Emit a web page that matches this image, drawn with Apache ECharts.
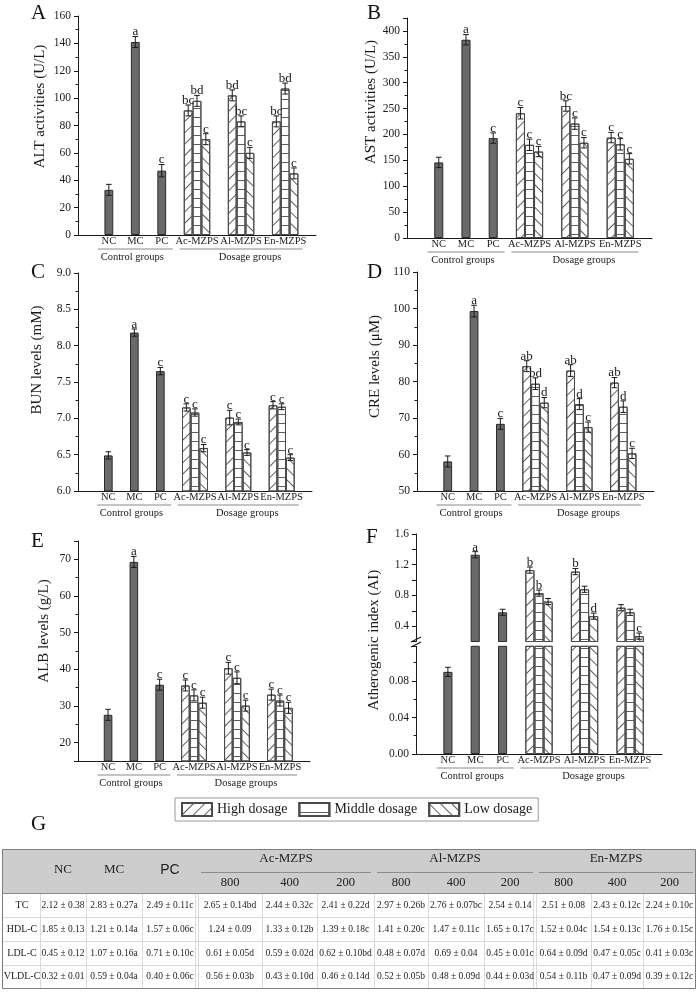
<!DOCTYPE html>
<html><head><meta charset="utf-8">
<script src="https://cdn.jsdelivr.net/npm/echarts@6/dist/echarts.min.js"></script>
<style>html,body{margin:0;padding:0;background:#fff}#c{width:698px;height:992px}</style>
</head><body><div id="c"></div>
<script>
// ---------------- data ----------------
const groupNames = ['NC', 'MC', 'PC', 'Ac-MZPS', 'Al-MZPS', 'En-MZPS'];
const groupTitles = ['Control groups', 'Dosage groups'];
const doseNames = ['High dosage', 'Middle dosage', 'Low dosage'];

// control arrays = [NC, MC, PC]; dosage arrays = [Ac, Al, En]
// A: ALT (U/L)
const altCtrl = [33, 141, 47];
const altCtrlErr = [4, 4, 4.5];
const altCtrlSig = ['', 'a', 'c'];
const altHigh = [91, 102, 83];
const altMid = [98, 83, 107];
const altLow = [70, 60, 45];
const altHighErr = [4, 4, 4];
const altMidErr = [4, 4, 4];
const altLowErr = [4, 4, 4];
const altHighSig = ['bc', 'bd', 'bc'];
const altMidSig = ['bd', 'bc', 'bd'];
const altLowSig = ['c', 'c', 'c'];

// B: AST (U/L)
const astCtrl = [146, 383, 193];
const astCtrlErr = [10, 10, 10];
const astCtrlSig = ['', 'a', 'c'];
const astHigh = [241, 255, 194];
const astMid = [180, 221, 181];
const astLow = [167, 184, 153];
const astHighErr = [11, 10, 10];
const astMidErr = [11, 11, 11];
const astLowErr = [10, 10, 10];
const astHighSig = ['c', 'bc', 'c'];
const astMidSig = ['c', 'c', 'c'];
const astLowSig = ['c', 'c', 'c'];

// C: BUN (mM)
const bunCtrl = [6.49, 8.18, 7.65];
const bunCtrlErr = [0.05, 0.05, 0.05];
const bunCtrlSig = ['', 'a', 'c'];
const bunHigh = [7.15, 7.01, 7.18];
const bunMid = [7.08, 6.95, 7.16];
const bunLow = [6.59, 6.53, 6.46];
const bunHighErr = [0.05, 0.1, 0.05];
const bunMidErr = [0.05, 0.04, 0.04];
const bunLowErr = [0.05, 0.04, 0.04];
const bunHighSig = ['c', 'c', 'c'];
const bunMidSig = ['c', 'c', 'c'];
const bunLowSig = ['c', 'c', 'c'];

// D: CRE (uM)
const creCtrl = [58.1, 99.3, 68.4];
const creCtrlErr = [1.5, 1.6, 1.5];
const creCtrlSig = ['', 'a', 'c'];
const creHigh = [84.2, 83.0, 79.7];
const creMid = [79.4, 73.8, 73.1];
const creLow = [74.2, 67.5, 60.3];
const creHighErr = [1.5, 1.6, 1.4];
const creMidErr = [1.6, 1.5, 1.6];
const creLowErr = [1.4, 1.4, 1.4];
const creHighSig = ['ab', 'ab', 'ab'];
const creMidSig = ['bd', 'd', 'd'];
const creLowSig = ['d', 'c', 'c'];

// E: ALB (g/L)
const albCtrl = [27.6, 69.3, 35.8];
const albCtrlErr = [1.5, 1.5, 1.5];
const albCtrlSig = ['', 'a', 'c'];
const albHigh = [35.6, 40.3, 33.1];
const albMid = [32.9, 37.7, 31.5];
const albLow = [30.9, 30.1, 29.5];
const albHighErr = [1.5, 1.6, 1.5];
const albMidErr = [1.5, 1.6, 1.5];
const albLowErr = [1.5, 1.5, 1.5];
const albHighSig = ['c', 'c', 'c'];
const albMidSig = ['c', 'c', 'c'];
const albLowSig = ['c', 'c', 'c'];

// F: Atherogenic index (AI)
const aiCtrl = [0.09, 1.33, 0.58];
const aiCtrlErr = [0.005, 0.04, 0.04];
const aiCtrlSig = ['', 'a', ''];
const aiHigh = [1.13, 1.11, 0.64];
const aiMid = [0.83, 0.88, 0.58];
const aiLow = [0.72, 0.53, 0.27];
const aiHighErr = [0.04, 0.04, 0.04];
const aiMidErr = [0.04, 0.04, 0.04];
const aiLowErr = [0.04, 0.04, 0.04];
const aiHighSig = ['b', 'b', ''];
const aiMidSig = ['b', '', ''];
const aiLowSig = ['', 'd', 'c'];

// G: table
const tableRowNames = ['TC', 'HDL-C', 'LDL-C', 'VLDL-C'];
const tableDoses = ['800', '400', '200'];
const tcVals = ['2.12 ± 0.38', '2.83 ± 0.27a', '2.49 ± 0.11c', '2.65 ± 0.14bd', '2.44 ± 0.32c', '2.41 ± 0.22d', '2.97 ± 0.26b', '2.76 ± 0.07bc', '2.54 ± 0.14', '2.51 ± 0.08', '2.43 ± 0.12c', '2.24 ± 0.10c'];
const hdlVals = ['1.85 ± 0.13', '1.21 ± 0.14a', '1.57 ± 0.06c', '1.24 ± 0.09', '1.33 ± 0.12b', '1.39 ± 0.18c', '1.41 ± 0.20c', '1.47 ± 0.11c', '1.65 ± 0.17c', '1.52 ± 0.04c', '1.54 ± 0.13c', '1.76 ± 0.15c'];
const ldlVals = ['0.45 ± 0.12', '1.07 ± 0.16a', '0.71 ± 0.10c', '0.61 ± 0.05d', '0.59 ± 0.02d', '0.62 ± 0.10bd', '0.48 ± 0.07d', '0.69 ± 0.04', '0.45 ± 0.01c', '0.64 ± 0.09d', '0.47 ± 0.05c', '0.41 ± 0.03c'];
const vldlVals = ['0.32 ± 0.01', '0.59 ± 0.04a', '0.40 ± 0.06c', '0.56 ± 0.03b', '0.43 ± 0.10d', '0.46 ± 0.14d', '0.52 ± 0.05b', '0.48 ± 0.09d', '0.44 ± 0.03d', '0.54 ± 0.11b', '0.47 ± 0.09d', '0.39 ± 0.12c'];

// ---------------- layout / style ----------------
const INK = '#1a1a1a';
const SERIF = 'Liberation Serif';
const NSLOT = 27;
const slotCats = Array.from({length: NSLOT}, (_, i) => 's' + i);
const ctrlSlot = i => 3 + 3 * i;
const doseSlot = (g, d) => 12 + 5 * g + d;

const hatch = (rot, gap) => ({symbol: 'rect', symbolSize: 1, dashArrayX: [10, 0], dashArrayY: [1, gap], rotation: rot, color: '#5e5e5e'});
const doseStyles = [
  {color: '#fff', borderColor: '#4a4a4a', borderWidth: 1, decal: hatch(-Math.PI / 4, 7)},
  {color: '#fff', borderColor: '#4a4a4a', borderWidth: 1, decal: hatch(0, 8)},
  {color: '#fff', borderColor: '#4a4a4a', borderWidth: 1, decal: hatch(Math.PI / 4, 7)}
];

function isMult(v, step) { const r = v / step; return Math.abs(r - Math.round(r)) < 1e-6; }

function xLabel(i) {
  if (i === ctrlSlot(0)) return '{t|' + groupNames[0] + '}';
  if (i === ctrlSlot(1)) return '{t|' + groupNames[1] + '}\n{u1|}\n{g|' + groupTitles[0] + '}';
  if (i === ctrlSlot(2)) return '{t|' + groupNames[2] + '}';
  if (i === doseSlot(0, 1)) return '{t|' + groupNames[3] + '}';
  if (i === doseSlot(1, 1)) return '{t|' + groupNames[4] + '}\n{u2|}\n{g2|' + groupTitles[1] + '}';
  if (i === doseSlot(2, 1)) return '{t|' + groupNames[5] + '}';
  return '';
}
function makeRich(slotW) {
  return {
    t: {fontFamily: SERIF, fontSize: 10.5, color: INK, lineHeight: 11},
    u1: {width: Math.round(slotW * 8.5), height: 1, lineHeight: 4, backgroundColor: '#8a8a8a'},
    u2: {width: Math.round(slotW * 14), height: 1, lineHeight: 4, backgroundColor: '#8a8a8a'},
    g: {fontFamily: SERIF, fontSize: 10.5, color: INK, lineHeight: 12, padding: [0, 6, 0, 0]},
    g2: {fontFamily: SERIF, fontSize: 10.5, color: INK, lineHeight: 12, padding: [0, 0, 0, 18]}
  };
}

function errRenderer(sigs) {
  return function (params, api) {
    const x = api.value(0), v = api.value(1), e = api.value(2);
    const hi = api.coord([x, v + e]);
    const lo = api.coord([x, v - e]);
    const bw = api.size([1, 0])[0];
    const cap = bw * 0.32;
    const st = {stroke: INK, lineWidth: 1};
    const ch = [
      {type: 'line', shape: {x1: hi[0], y1: hi[1], x2: lo[0], y2: lo[1]}, style: st},
      {type: 'line', shape: {x1: hi[0] - cap, y1: hi[1], x2: hi[0] + cap, y2: hi[1]}, style: st},
      {type: 'line', shape: {x1: lo[0] - cap, y1: lo[1], x2: lo[0] + cap, y2: lo[1]}, style: st}
    ];
    const s = sigs[params.dataIndex];
    if (s) ch.push({type: 'text', style: {text: s, x: hi[0], y: hi[1] + 2, align: 'center', verticalAlign: 'bottom', font: '13px "Liberation Serif"', fill: INK}});
    return {type: 'group', children: ch};
  };
}

const option = {
  animation: false,
  backgroundColor: '#fff',
  title: [],
  legend: {
    data: doseNames, left: 175, top: 798, orient: 'horizontal', selectedMode: false,
    itemWidth: 30, itemHeight: 13, itemGap: 11, padding: [4, 6],
    borderColor: '#9a9a9a', borderWidth: 1, icon: 'rect',
    textStyle: {fontFamily: SERIF, fontSize: 14, color: INK}
  },
  grid: [], xAxis: [], yAxis: [], series: [], graphic: []
};

function addPanel(c) {
  const gi = option.grid.length;
  option.grid.push({left: c.box[0], top: c.box[1], width: c.box[2], height: c.box[3]});
  const slotW = c.box[2] / NSLOT;
  option.xAxis.push({
    gridIndex: gi, type: 'category', data: slotCats, boundaryGap: true, show: c.showX !== false,
    axisLine: {show: true, onZero: false, lineStyle: {color: INK, width: 1}},
    axisTick: {show: false}, splitLine: {show: false},
    axisLabel: {interval: 0, margin: 1, formatter: (v, i) => xLabel(i), rich: makeRich(slotW)}
  });
  const y = c.y;
  const ya = {
    gridIndex: gi, type: 'value', min: y.min, max: y.max,
    axisLine: {show: true, onZero: false, lineStyle: {color: INK, width: 1}},
    axisTick: {show: true, length: 4, lineStyle: {color: INK}},
    minorTick: {show: !!y.minor, splitNumber: 2, length: 2.5, lineStyle: {color: INK}},
    splitLine: {show: false}, minorSplitLine: {show: false},
    axisLabel: {margin: 7, color: INK, fontFamily: SERIF, fontSize: 11.5,
      formatter: v => (isMult(v, y.labelStep) ? v.toFixed(y.dec) : '')},
    name: c.name || '', nameLocation: 'middle', nameGap: c.nameGap || 30, nameRotate: 90,
    nameTextStyle: {fontFamily: SERIF, fontSize: 15, color: INK, padding: [0, 0, 0, c.shift || 0]}
  };
  if (y.interval) ya.interval = y.interval; else ya.splitNumber = y.split;
  option.yAxis.push(ya);

  const d = c.data;
  const ctrlData = new Array(NSLOT).fill('-');
  d.ctrl.forEach((v, i) => { ctrlData[ctrlSlot(i)] = v; });
  option.series.push({type: 'bar', name: 'Control', xAxisIndex: gi, yAxisIndex: gi, data: ctrlData,
    barWidth: '100%', barGap: '-100%', clip: true, silent: true,
    itemStyle: {color: '#6a6a6a', borderColor: '#2a2a2a', borderWidth: 1}});
  const doseVals = [d.high, d.mid, d.low];
  doseVals.forEach((arr, k) => {
    const sd = new Array(NSLOT).fill('-');
    arr.forEach((v, g) => { sd[doseSlot(g, k)] = v; });
    option.series.push({type: 'bar', name: doseNames[k], xAxisIndex: gi, yAxisIndex: gi, data: sd,
      barWidth: '100%', barGap: '-100%', clip: true, silent: true, itemStyle: doseStyles[k]});
  });
  // error bars + significance letters
  const items = [], sigs = [];
  const keep = (v, e) => v >= y.min && v + e <= y.max;
  d.ctrl.forEach((v, i) => { if (keep(v, d.ctrlErr[i])) { items.push([ctrlSlot(i), v, d.ctrlErr[i]]); sigs.push(d.ctrlSig[i]); } });
  const errs = [d.highErr, d.midErr, d.lowErr], sg = [d.highSig, d.midSig, d.lowSig];
  doseVals.forEach((arr, k) => arr.forEach((v, g) => {
    if (keep(v, errs[k][g])) { items.push([doseSlot(g, k), v, errs[k][g]]); sigs.push(sg[k][g]); }
  }));
  option.series.push({type: 'custom', xAxisIndex: gi, yAxisIndex: gi, data: items, z: 5, silent: true,
    encode: {x: 0, y: 1}, renderItem: errRenderer(sigs)});
}

const mk = (ctrl, ctrlErr, ctrlSig, high, mid, low, highErr, midErr, lowErr, highSig, midSig, lowSig) =>
  ({ctrl, ctrlErr, ctrlSig, high, mid, low, highErr, midErr, lowErr, highSig, midSig, lowSig});

addPanel({box: [78, 16, 238, 219], y: {min: 0, max: 160, interval: 20, minor: true, labelStep: 20, dec: 0},
  name: 'ALT activities (U/L)', nameGap: 30, shift: 38,
  data: mk(altCtrl, altCtrlErr, altCtrlSig, altHigh, altMid, altLow, altHighErr, altMidErr, altLowErr, altHighSig, altMidSig, altLowSig)});
addPanel({box: [407, 18, 245, 220], y: {min: 0, max: 425, interval: 50, minor: true, labelStep: 50, dec: 0},
  name: 'AST activities (U/L)', nameGap: 28, shift: 52,
  data: mk(astCtrl, astCtrlErr, astCtrlSig, astHigh, astMid, astLow, astHighErr, astMidErr, astLowErr, astHighSig, astMidSig, astLowSig)});
addPanel({box: [78, 273, 234, 218], y: {min: 6, max: 9, interval: 0.5, minor: true, labelStep: 0.5, dec: 1},
  name: 'BUN levels (mM)', nameGap: 33, shift: 44,
  data: mk(bunCtrl, bunCtrlErr, bunCtrlSig, bunHigh, bunMid, bunLow, bunHighErr, bunMidErr, bunLowErr, bunHighSig, bunMidSig, bunLowSig)});
addPanel({box: [417, 272, 237, 219], y: {min: 50, max: 110, interval: 10, minor: true, labelStep: 10, dec: 0},
  name: 'CRE levels (μM)', nameGap: 34, shift: 30,
  data: mk(creCtrl, creCtrlErr, creCtrlSig, creHigh, creMid, creLow, creHighErr, creMidErr, creLowErr, creHighSig, creMidSig, creLowSig)});
addPanel({box: [78, 541, 232, 220], y: {min: 15, max: 75, split: 6, minor: true, labelStep: 10, dec: 0},
  name: 'ALB levels (g/L)', nameGap: 26, shift: 40,
  data: mk(albCtrl, albCtrlErr, albCtrlSig, albHigh, albMid, albLow, albHighErr, albMidErr, albLowErr, albHighSig, albMidSig, albLowSig)});
const aiData = mk(aiCtrl, aiCtrlErr, aiCtrlSig, aiHigh, aiMid, aiLow, aiHighErr, aiMidErr, aiLowErr, aiHighSig, aiMidSig, aiLowSig);
addPanel({box: [416, 534, 246, 107.5], showX: false, y: {min: 0.2, max: 1.6, interval: 0.2, minor: false, labelStep: 0.4, dec: 1},
  data: aiData});
addPanel({box: [416, 646.3, 246, 107.7], y: {min: 0, max: 0.118, interval: 0.04, minor: true, labelStep: 0.04, dec: 2},
  name: 'Atherogenic index (AI)', nameGap: 34, shift: 120, data: aiData});

// panel letters
[['A', 31, 3], ['B', 367, 3], ['C', 31, 262], ['D', 367, 262], ['E', 31, 531], ['F', 366, 527], ['G', 31, 814]].forEach(t => {
  option.title.push({text: t[0], left: t[1], top: t[2], padding: 0,
    textStyle: {fontFamily: SERIF, fontSize: 21, fontWeight: 'normal', color: '#111'}});
});

// axis break marks for panel F
const G = option.graphic;
const gl = (x1, y1, x2, y2, stroke, w) => ({type: 'line', silent: true, shape: {x1, y1, x2, y2}, style: {stroke, lineWidth: w || 1}});
G.push(gl(411, 642, 421, 637, INK, 1.2));
G.push(gl(411, 647, 421, 642, INK, 1.2));

// ---------------- table G ----------------
const tblCols = [2, 40, 86, 142, 198, 262, 317, 374, 428, 484, 536, 591, 643, 696];
const tblTop = 849, tblHead = 893;
const tblRowY = [893, 917, 941, 965, 988];
const tblRows = [tcVals, hdlVals, ldlVals, vldlVals];
const gt = (x, y, text, font, align) => ({type: 'text', silent: true, x, y,
  style: {text, font, fill: '#222', align: align || 'center', verticalAlign: 'middle'}});
G.push({type: 'rect', silent: true, shape: {x: 2.5, y: tblTop + 0.5, width: 693, height: tblHead - tblTop}, style: {fill: '#cdcdcd', stroke: null}});
for (let r = 1; r < 4; r++) G.push(gl(2, tblRowY[r] + 0.5, 696, tblRowY[r] + 0.5, '#d9d9d9'));
for (let c = 1; c < 13; c++) {
  G.push(gl(tblCols[c] + 0.5, tblHead, tblCols[c] + 0.5, 988, '#d9d9d9'));
  if (c === 4 || c === 10) G.push(gl(tblCols[c] - 2.5, tblHead, tblCols[c] - 2.5, 988, '#d9d9d9'));
}
G.push(gl(2, tblHead + 0.5, 696, tblHead + 0.5, '#8d8d8d'));
G.push({type: 'rect', silent: true, shape: {x: 2.5, y: tblTop + 0.5, width: 693, height: 988 - tblTop}, style: {fill: null, stroke: '#7d7d7d', lineWidth: 1}});
// header
for (let i = 0; i < 3; i++) {
  const cx = (tblCols[i + 1] + tblCols[i + 2]) / 2;
  G.push(gt(cx, 870, groupNames[i], i === 2 ? '14px "Liberation Sans"' : '13px "Liberation Serif"'));
}
for (let g = 0; g < 3; g++) {
  const a = tblCols[4 + 3 * g], b = tblCols[7 + 3 * g];
  G.push(gt((a + b) / 2, 859, groupNames[3 + g], '13px "Liberation Serif"'));
  G.push(gl(a + 3, 872.5, b - 3, 872.5, '#8d8d8d'));
  for (let k = 0; k < 3; k++) {
    G.push(gt((tblCols[4 + 3 * g + k] + tblCols[5 + 3 * g + k]) / 2, 883, tableDoses[k], '12.5px "Liberation Serif"'));
  }
}
// body
tblRows.forEach((row, r) => {
  const cy = (tblRowY[r] + tblRowY[r + 1]) / 2;
  G.push(gt((tblCols[0] + tblCols[1]) / 2 + 1, cy, tableRowNames[r], '10px "Liberation Serif"'));
  row.forEach((txt, c) => {
    G.push(gt((tblCols[c + 1] + tblCols[c + 2]) / 2, cy, txt, '9.5px "Liberation Serif"'));
  });
});

const chart = echarts.init(document.getElementById('c'), null, {renderer: 'canvas'});
chart.setOption(option);
</script></body></html>
